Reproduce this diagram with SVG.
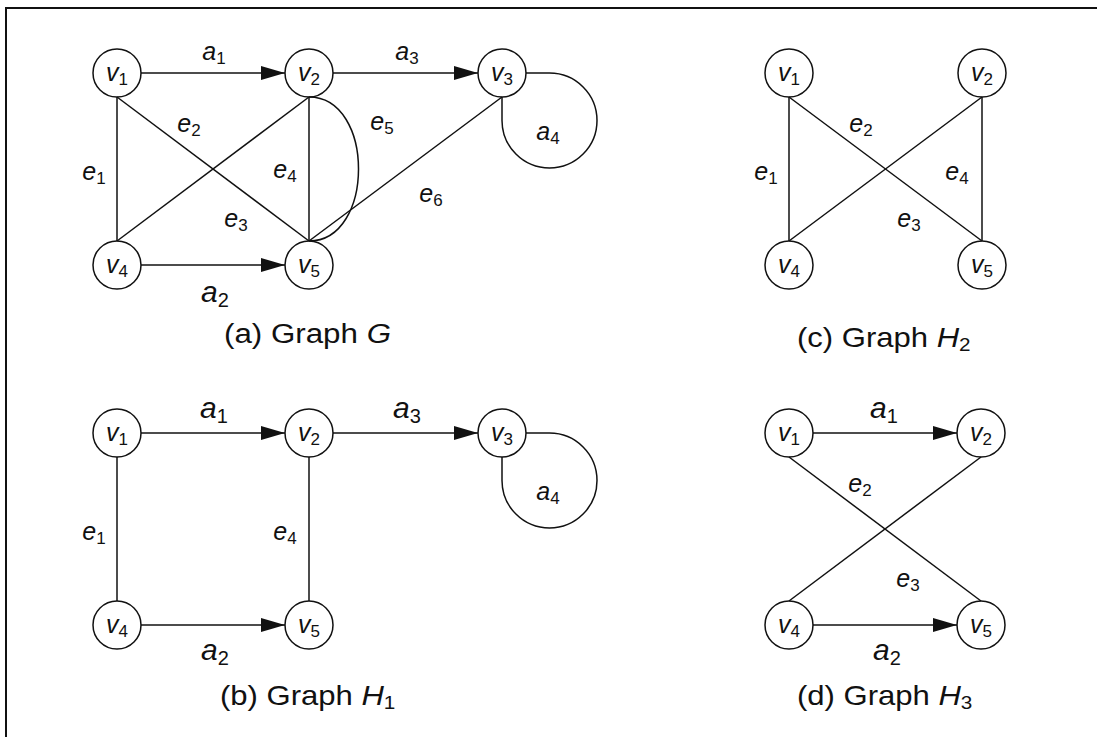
<svg xmlns="http://www.w3.org/2000/svg" width="1097" height="737" viewBox="0 0 1097 737">
  <defs>
    <style>
      .frame { fill: none; stroke: #111; stroke-width: 2; }
      .node circle { fill: none; stroke: #111; stroke-width: 1.5; }
      .edge { fill: none; stroke: #111; stroke-width: 1.5; }
      .arc { fill: none; stroke: #111; stroke-width: 1.5; marker-end: url(#head); }
      text { font-family: "Liberation Sans", Arial, sans-serif; fill: #111; }
      .v { font-size: 25px; font-style: italic; text-anchor: middle; }
      .lb { font-size: 25px; font-style: italic; text-anchor: middle; }
      .lbBig { font-size: 30px; font-style: italic; text-anchor: middle; }
      .sub { font-style: normal; font-size: 17px; }
      .lbBig .sub { font-size: 20px; }
      .cap { font-size: 27px; }
      .cap .it { font-style: italic; }
      .cap .sub { font-size: 18px; font-style: normal; }
    </style>
    <marker id="head" viewBox="0 0 24 14" refX="24" refY="7" markerWidth="24" markerHeight="14" markerUnits="userSpaceOnUse" orient="auto">
      <path d="M0,0 L24,7 L0,14 z" fill="#111"/>
    </marker>
  </defs>

  <rect width="1097" height="737" fill="#fff"/>
  <path class="frame" d="M6,740 V8 H1100"/>

  <!-- (a) Graph G -->
  <g id="graphG">
    <g id="G-edges">
      <line class="arc" x1="141" y1="73" x2="285" y2="73"/>
      <line class="arc" x1="333" y1="73" x2="478" y2="73"/>
      <line class="arc" x1="141" y1="265" x2="285" y2="265"/>
      <line class="edge" x1="117" y1="97" x2="117" y2="241"/>
      <line class="edge" x1="309" y1="97" x2="309" y2="241"/>
      <line class="edge" x1="117" y1="97" x2="309" y2="241"/>
      <line class="edge" x1="117" y1="241" x2="309" y2="97"/>
      <line class="edge" x1="309" y1="241" x2="502" y2="97"/>
      <path class="edge" d="M309,97 C375,97 375,241 309,241"/>
      <path class="edge" d="M526,73 H549.5 A47.5,47.5 0 1 1 502,120.5 V97"/>
    </g>
    <g id="G-v1" class="node"><circle cx="117" cy="73" r="24"/><text class="v" x="117" y="81">v<tspan class="sub" dy="4">1</tspan></text></g>
    <g id="G-v2" class="node"><circle cx="309" cy="73" r="24"/><text class="v" x="309" y="81">v<tspan class="sub" dy="4">2</tspan></text></g>
    <g id="G-v3" class="node"><circle cx="502" cy="73" r="24"/><text class="v" x="502" y="81">v<tspan class="sub" dy="4">3</tspan></text></g>
    <g id="G-v4" class="node"><circle cx="117" cy="265" r="24"/><text class="v" x="117" y="273">v<tspan class="sub" dy="4">4</tspan></text></g>
    <g id="G-v5" class="node"><circle cx="309" cy="265" r="24"/><text class="v" x="309" y="273">v<tspan class="sub" dy="4">5</tspan></text></g>
    <g id="G-labels">
      <text class="lb" x="214" y="60">a<tspan class="sub" dy="4">1</tspan></text>
      <text class="lb" x="407" y="60">a<tspan class="sub" dy="4">3</tspan></text>
      <text class="lb" x="189" y="132">e<tspan class="sub" dy="4">2</tspan></text>
      <text class="lb" x="94" y="180">e<tspan class="sub" dy="4">1</tspan></text>
      <text class="lb" x="285" y="178">e<tspan class="sub" dy="4">4</tspan></text>
      <text class="lb" x="236" y="227">e<tspan class="sub" dy="4">3</tspan></text>
      <text class="lb" x="382" y="130">e<tspan class="sub" dy="4">5</tspan></text>
      <text class="lb" x="431" y="202">e<tspan class="sub" dy="4">6</tspan></text>
      <text class="lb" x="548" y="140">a<tspan class="sub" dy="4">4</tspan></text>
      <text class="lbBig" x="215" y="302">a<tspan class="sub" dy="5">2</tspan></text>
    </g>
    <text class="cap" transform="translate(224,343) scale(1.16,1)">(a) Graph <tspan class="it">G</tspan></text>
  </g>

  <!-- (b) Graph H1 -->
  <g id="graphH1">
    <g id="H1-edges">
      <line class="arc" x1="141" y1="433" x2="285" y2="433"/>
      <line class="arc" x1="333" y1="433" x2="478" y2="433"/>
      <line class="arc" x1="141" y1="625" x2="285" y2="625"/>
      <line class="edge" x1="117" y1="457" x2="117" y2="601"/>
      <line class="edge" x1="309" y1="457" x2="309" y2="601"/>
      <path class="edge" d="M526,433 H549.5 A47.5,47.5 0 1 1 502,480.5 V457"/>
    </g>
    <g id="H1-v1" class="node"><circle cx="117" cy="433" r="24"/><text class="v" x="117" y="441">v<tspan class="sub" dy="4">1</tspan></text></g>
    <g id="H1-v2" class="node"><circle cx="309" cy="433" r="24"/><text class="v" x="309" y="441">v<tspan class="sub" dy="4">2</tspan></text></g>
    <g id="H1-v3" class="node"><circle cx="502" cy="433" r="24"/><text class="v" x="502" y="441">v<tspan class="sub" dy="4">3</tspan></text></g>
    <g id="H1-v4" class="node"><circle cx="117" cy="625" r="24"/><text class="v" x="117" y="633">v<tspan class="sub" dy="4">4</tspan></text></g>
    <g id="H1-v5" class="node"><circle cx="309" cy="625" r="24"/><text class="v" x="309" y="633">v<tspan class="sub" dy="4">5</tspan></text></g>
    <g id="H1-labels">
      <text class="lbBig" x="214" y="418">a<tspan class="sub" dy="5">1</tspan></text>
      <text class="lbBig" x="407" y="418">a<tspan class="sub" dy="5">3</tspan></text>
      <text class="lb" x="94" y="540">e<tspan class="sub" dy="4">1</tspan></text>
      <text class="lb" x="285" y="540">e<tspan class="sub" dy="4">4</tspan></text>
      <text class="lb" x="548" y="500">a<tspan class="sub" dy="4">4</tspan></text>
      <text class="lbBig" x="215" y="660">a<tspan class="sub" dy="5">2</tspan></text>
    </g>
    <text class="cap" transform="translate(220,705) scale(1.15,1)">(b) Graph <tspan class="it">H</tspan><tspan class="sub" dy="4">1</tspan></text>
  </g>

  <!-- (c) Graph H2 -->
  <g id="graphH2">
    <g id="H2-edges">
      <line class="edge" x1="789" y1="97" x2="789" y2="241"/>
      <line class="edge" x1="982" y1="97" x2="982" y2="241"/>
      <line class="edge" x1="789" y1="97" x2="982" y2="241"/>
      <line class="edge" x1="789" y1="241" x2="982" y2="97"/>
    </g>
    <g id="H2-v1" class="node"><circle cx="789" cy="73" r="24"/><text class="v" x="789" y="81">v<tspan class="sub" dy="4">1</tspan></text></g>
    <g id="H2-v2" class="node"><circle cx="982" cy="73" r="24"/><text class="v" x="982" y="81">v<tspan class="sub" dy="4">2</tspan></text></g>
    <g id="H2-v4" class="node"><circle cx="789" cy="265" r="24"/><text class="v" x="789" y="273">v<tspan class="sub" dy="4">4</tspan></text></g>
    <g id="H2-v5" class="node"><circle cx="982" cy="265" r="24"/><text class="v" x="982" y="273">v<tspan class="sub" dy="4">5</tspan></text></g>
    <g id="H2-labels">
      <text class="lb" x="861" y="132">e<tspan class="sub" dy="4">2</tspan></text>
      <text class="lb" x="766" y="180">e<tspan class="sub" dy="4">1</tspan></text>
      <text class="lb" x="957" y="180">e<tspan class="sub" dy="4">4</tspan></text>
      <text class="lb" x="909" y="227">e<tspan class="sub" dy="4">3</tspan></text>
    </g>
    <text class="cap" transform="translate(797,347) scale(1.15,1)">(c) Graph <tspan class="it">H</tspan><tspan class="sub" dy="4">2</tspan></text>
  </g>

  <!-- (d) Graph H3 -->
  <g id="graphH3">
    <g id="H3-edges">
      <line class="arc" x1="813" y1="433" x2="957" y2="433"/>
      <line class="arc" x1="813" y1="625" x2="957" y2="625"/>
      <line class="edge" x1="789" y1="457" x2="981" y2="601"/>
      <line class="edge" x1="789" y1="601" x2="981" y2="457"/>
    </g>
    <g id="H3-v1" class="node"><circle cx="789" cy="433" r="24"/><text class="v" x="789" y="441">v<tspan class="sub" dy="4">1</tspan></text></g>
    <g id="H3-v2" class="node"><circle cx="981" cy="433" r="24"/><text class="v" x="981" y="441">v<tspan class="sub" dy="4">2</tspan></text></g>
    <g id="H3-v4" class="node"><circle cx="789" cy="625" r="24"/><text class="v" x="789" y="633">v<tspan class="sub" dy="4">4</tspan></text></g>
    <g id="H3-v5" class="node"><circle cx="981" cy="625" r="24"/><text class="v" x="981" y="633">v<tspan class="sub" dy="4">5</tspan></text></g>
    <g id="H3-labels">
      <text class="lbBig" x="884" y="418">a<tspan class="sub" dy="5">1</tspan></text>
      <text class="lb" x="860" y="492">e<tspan class="sub" dy="4">2</tspan></text>
      <text class="lb" x="908" y="587">e<tspan class="sub" dy="4">3</tspan></text>
      <text class="lbBig" x="887" y="660">a<tspan class="sub" dy="5">2</tspan></text>
    </g>
    <text class="cap" transform="translate(797,705) scale(1.15,1)">(d) Graph <tspan class="it">H</tspan><tspan class="sub" dy="4">3</tspan></text>
  </g>
</svg>
